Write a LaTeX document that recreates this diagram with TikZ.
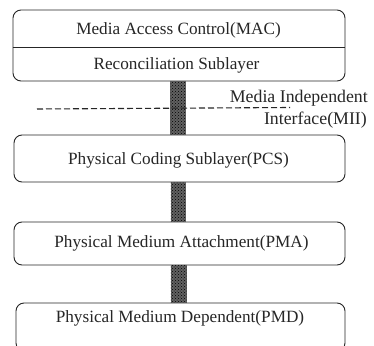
\documentclass[tikz,border=0pt]{standalone}
\usepackage{fontspec}
\setmainfont{Liberation Serif}
\usetikzlibrary{patterns}
\begin{document}
\begin{tikzpicture}[x=1pt,y=-1pt,
  layerbox/.style={draw=black!85,line width=0.9pt,rounded corners=8pt},
  lbl/.style={font=\fontsize{17.2}{20}\selectfont,text=black!85,inner sep=0pt},
  milbl/.style={font=\fontsize{17.8}{20}\selectfont,text=black!85,inner sep=0pt},
  mii/.style={draw=black!85,line width=1.1pt,dash pattern=on 6pt off 3pt}]
\useasboundingbox (0,0) rectangle (374,345);
\clip (0,0) rectangle (374,345);
\fill[white] (0,0) rectangle (374,345);

% upper box holding MAC and the reconciliation sublayer
\node[layerbox,minimum width=332pt,minimum height=71pt,inner sep=0pt] (top) at (179,45.5) {};
\draw[draw=black!85,line width=0.8pt] (top.west |- 0,47) -- (top.east |- 0,47);
\node[lbl] (mac) at (178.5,30) {Media Access Control(MAC)};
\node[lbl] (rs) at (176.5,65) {Reconciliation Sublayer};

% lower sublayers
\node[layerbox,minimum width=331pt,minimum height=47pt,inner sep=0pt] (pcs) at (179.5,158.5) {};
\node[lbl] at (178.5,160) {Physical Coding Sublayer(PCS)};
\node[layerbox,minimum width=331pt,minimum height=43pt,inner sep=0pt] (pma) at (179.5,243.5) {};
\node[lbl] at (181.5,243) {Physical Medium Attachment(PMA)};
\node[layerbox,minimum width=329pt,minimum height=48pt,inner sep=0pt] (pmd) at (180.5,327) {};
\node[lbl] at (180,318) {Physical Medium Dependent(PMD)};

% grey links between the layers
\foreach \a/\b in {top/pcs,pcs/pma,pma/pmd}{
  \fill[black!62] ([xshift=-9pt]\a.south) rectangle ([xshift=6pt]\b.north);
  \fill[pattern=crosshatch dots,pattern color=black] ([xshift=-9pt]\a.south) rectangle ([xshift=6pt]\b.north);
}

% media independent interface
\coordinate (miiL) at (37,109);
\coordinate (miiR) at (290,107.5);
\draw[mii] (miiL) -- (miiR);
\node[milbl,anchor=east] (miitxt1) at (368,98) {Media Independent};
\node[milbl,anchor=east] (miitxt2) at (367,120) {Interface(MII)};
\end{tikzpicture}
\end{document}
